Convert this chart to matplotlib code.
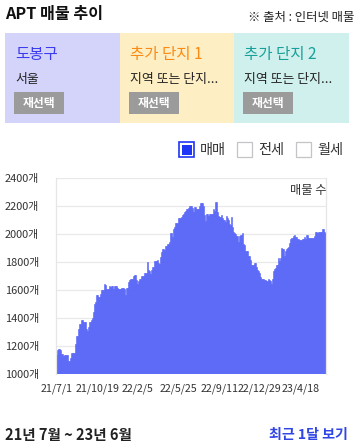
import numpy as np
import matplotlib
matplotlib.use("Agg")
import matplotlib.pyplot as plt
from matplotlib.patches import Rectangle

plt.rcParams['font.family'] = ['Noto Sans CJK KR', 'DejaVu Sans']

# listing counts, one value per ~2.7 days from 21/7/1 to 23/6/30
listing_counts = [
    1134, 1170, 1182, 1182, 1170, 1146, 1146, 1127, 1134, 1134,
    1134, 1134, 1093, 1093, 1117, 1150, 1150, 1150, 1150, 1213,
    1270, 1270, 1320, 1356, 1356, 1384, 1384, 1375, 1375, 1372,
    1325, 1308, 1336, 1372, 1372, 1384, 1397, 1444, 1497, 1516,
    1563, 1563, 1547, 1547, 1570, 1600, 1600, 1600, 1642, 1637,
    1606, 1606, 1606, 1628, 1623, 1628, 1628, 1604, 1628, 1628,
    1628, 1616, 1604, 1604, 1609, 1614, 1611, 1611, 1607, 1563,
    1611, 1611, 1659, 1671, 1676, 1676, 1676, 1700, 1707, 1707,
    1671, 1640, 1666, 1676, 1676, 1700, 1700, 1700, 1719, 1719,
    1719, 1802, 1742, 1735, 1714, 1742, 1766, 1766, 1807, 1807,
    1807, 1814, 1795, 1785, 1838, 1869, 1890, 1890, 1885, 1914,
    1914, 1926, 1926, 1945, 2010, 2010, 1977, 2034, 2048, 2077,
    2082, 2082, 2112, 2117, 2117, 2124, 2136, 2143, 2160, 2167,
    2177, 2177, 2184, 2200, 2200, 2200, 2184, 2160, 2196, 2196,
    2182, 2182, 2182, 2200, 2220, 2220, 2220, 2200, 2136, 2096,
    2143, 2143, 2129, 2143, 2143, 2143, 2143, 2177, 2167, 2225,
    2225, 2155, 2132, 2120, 2120, 2136, 2112, 2100, 2100, 2086,
    2132, 2112, 2100, 2069, 2065, 2124, 2053, 2017, 2005, 2000,
    1986, 1986, 1945, 1983, 1993, 1993, 2005, 1929, 1922, 1881,
    1881, 1881, 1845, 1845, 1814, 1778, 1778, 1778, 1795, 1795,
    1762, 1742, 1735, 1724, 1690, 1676, 1676, 1676, 1671, 1671,
    1666, 1666, 1676, 1671, 1666, 1642, 1676, 1738, 1747, 1754,
    1778, 1778, 1826, 1807, 1826, 1898, 1893, 1893, 1843, 1881,
    1890, 1898, 1905, 1933, 1962, 1969, 1969, 1988, 1993, 1976,
    1981, 1964, 1964, 1960, 1955, 1955, 1964, 1964, 1976, 1964,
    1991, 1991, 1969, 1969, 1969, 1969, 1969, 1969, 1988, 2017,
    2017, 2010, 2017, 2017, 2017, 2017, 2034, 2034, 2017, 2010,
]
total_days = 730
tick_days = [0, 110, 220, 330, 440, 550, 660]
tick_labels = ['21/7/1', '21/10/19', '22/2/5', '22/5/25', '22/9/11', '22/12/29', '23/4/18']
y_ticks = [1000, 1200, 1400, 1600, 1800, 2000, 2200, 2400]

panel_titles = ['도봉구', '추가 단지 1', '추가 단지 2']
panel_subs = ['서울', '지역 또는 단지...', '지역 또는 단지...']
panel_bg = ['#d4d4fa', '#feeec4', '#d0f0ee']
panel_fg = ['#3b3bef', '#fb8a12', '#17a097']
legend_items = ['매매', '전세', '월세']

fig = plt.figure(figsize=(3.58, 4.47), dpi=100)

# page layer in pixel coordinates
bg = fig.add_axes([0, 0, 1, 1])
bg.set_xlim(0, 358)
bg.set_ylim(447, 0)
bg.axis('off')

bg.text(5, 14, 'APT 매물 추이', fontsize=11.6, fontweight='bold', color='#111', va='center')
bg.text(354, 17, '※ 출처 : 인터넷 매물', fontsize=8.9, color='#222', ha='right', va='center')

panel_x = [5, 120, 234]
panel_w = [115, 114, 115]
for i in range(3):
    x0 = panel_x[i]
    bg.add_patch(Rectangle((x0, 33), panel_w[i], 90, color=panel_bg[i], lw=0))
    bg.text(x0 + 10, 55, panel_titles[i], fontsize=11.2, color=panel_fg[i], va='center')
    bg.text(x0 + 10, 79, panel_subs[i], fontsize=9.3, color='#222', va='center')
    bg.add_patch(Rectangle((x0 + 9, 92), 50, 22, color='#9b9b9b', lw=0))
    bg.text(x0 + 34, 103, '재선택', fontsize=8.5, color='white', fontweight='bold',
            ha='center', va='center')

# legend checkboxes
box_x = [179, 237, 296]
for i, label in enumerate(legend_items):
    bx = box_x[i]
    if i == 0:
        bg.add_patch(Rectangle((bx, 142), 15, 15, facecolor='white', edgecolor='#1f35f5', lw=1.2))
        bg.add_patch(Rectangle((bx + 2.5, 144.5), 10, 10, color='#1f35f5', lw=0))
    else:
        bg.add_patch(Rectangle((bx, 142), 15, 15, facecolor='white', edgecolor='#c4c4c8', lw=0.9))
    bg.text(bx + 21, 150, label, fontsize=10.2, color='#333', va='center')

bg.text(5, 435, '21년 7월 ~ 23년 6월', fontsize=10.5, fontweight='bold', color='#222', va='center')
bg.text(348, 435, '최근 1달 보기', fontsize=10.1, fontweight='bold', color='#2f45e6',
        ha='right', va='center')

# chart
ax = fig.add_axes([56 / 358, (447 - 374) / 447, 270 / 358, 196 / 447])
n = len(listing_counts)
step = total_days / n
days = np.arange(n) * step
ax.bar(days, listing_counts, width=step, color='#5664f7', edgecolor='#5664f7', lw=0.4,
       zorder=2)
ax.set_xlim(-step / 2, days[-1] + step / 2)
ax.set_ylim(1000, 2400)
ax.set_yticks(y_ticks)
ax.set_yticklabels([f'{v}개' for v in y_ticks], fontsize=7.9, color='#333')
ax.set_xticks(tick_days)
ax.set_xticklabels(tick_labels, fontsize=7.7, color='#333')
ax.tick_params(length=0)
ax.tick_params(axis='y', pad=12)
ax.tick_params(axis='x', pad=7)
ax.grid(axis='y', color='#e9e9e9', lw=0.9, zorder=0)
for side in ['top', 'bottom']:
    ax.spines[side].set_visible(False)
for side in ['left', 'right']:
    ax.spines[side].set_color('#e6e6e6')
    ax.spines[side].set_linewidth(0.9)
ax.text(1.0, 0.935, '매물 수', transform=ax.transAxes, fontsize=8.8, color='#333',
        ha='right', va='center')

fig.savefig('out.png', dpi=100)
